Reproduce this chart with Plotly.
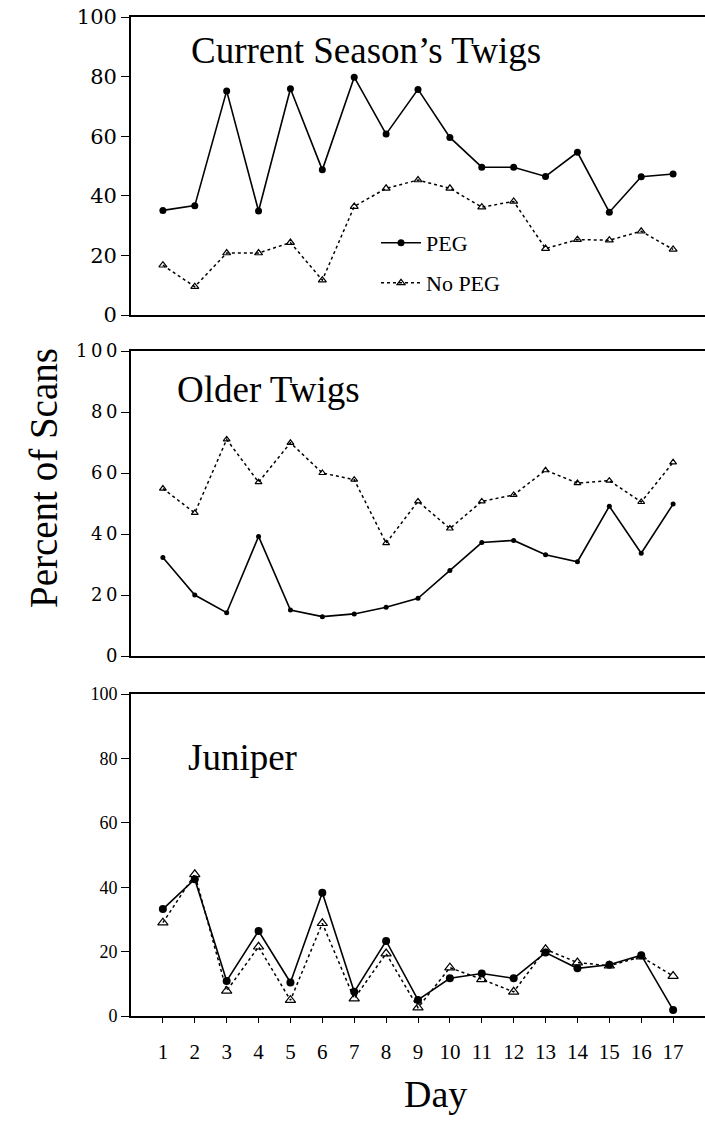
import plotly.graph_objects as go

# Day of trial (x-axis)
days = list(range(1, 18))
day_tick_labels = [str(d) for d in days]

# Percent of scans: current season's twigs
current_peg = [35.1, 36.7, 75.2, 34.9, 75.9, 48.7, 79.8, 60.7, 75.7, 59.6,
               49.6, 49.6, 46.5, 54.6, 34.5, 46.4, 47.3]
current_nopeg = [16.7, 9.5, 20.8, 20.8, 24.3, 11.7, 36.4, 42.5, 45.3, 42.5,
                 36.2, 38.1, 22.3, 25.3, 25.1, 28.1, 22.0]

# Percent of scans: older twigs
older_peg = [32.3, 20.0, 14.2, 39.2, 15.1, 12.9, 13.8, 16.0, 18.9, 28.0,
             37.2, 37.9, 33.2, 30.9, 49.1, 33.7, 49.8]
older_nopeg = [54.9, 46.9, 71.0, 57.0, 69.9, 60.0, 57.8, 37.0, 50.7, 41.8,
               50.7, 52.8, 60.9, 56.7, 57.5, 50.5, 63.5]

# Percent of scans: juniper
juniper_peg = [33.2, 42.5, 10.9, 26.4, 10.4, 38.3, 7.5, 23.3, 5.0, 11.7,
               13.2, 11.7, 19.7, 14.8, 15.9, 18.9, 1.9]
juniper_nopeg = [29.0, 44.0, 7.8, 21.5, 4.9, 28.8, 5.4, 19.4, 2.6, 15.0,
                 11.4, 7.5, 20.7, 16.6, 15.6, 18.4, 12.4]

y_ticks = [0, 20, 40, 60, 80, 100]
y_tick_labels = ["0", "20", "40", "60", "80", "100"]
# the middle panel's labels are set with slightly open letter spacing
y_tick_labels_spaced = ["\u2009".join(t) for t in y_tick_labels]
panel_titles = ["Current Season’s Twigs", "Older Twigs", "Juniper"]
series_names = ["PEG", "No PEG"]

W, H = 705, 1121
L_MARGIN = 131
SERIF = "Liberation Serif"
WIDE_SERIF = "DejaVu Serif"


def px_x(px):
    return (px - L_MARGIN) / (W - L_MARGIN)


def px_y(px):
    return 1 - px / H


# pixel extents (top, bottom) of each panel's plotting area
panel_px = [(17, 315), (351, 656), (694, 1016)]
# marker sizes per panel (circle, triangle)
marker_sizes = [(7, 7), (5, 6), (8, 9)]
title_pos = [(189, 50), (175, 390), (186, 757)]
ytick_styles = [
    (y_tick_labels, dict(family=WIDE_SERIF, size=21, color="black")),
    (y_tick_labels_spaced, dict(family=WIDE_SERIF, size=18, color="black")),
    (y_tick_labels, dict(family=SERIF, size=18, color="black")),
]

panels = [
    (current_peg, current_nopeg),
    (older_peg, older_nopeg),
    (juniper_peg, juniper_nopeg),
]

fig = go.Figure()

for i, (peg, nopeg) in enumerate(panels):
    n = i + 1
    xa = "x" if n == 1 else f"x{n}"
    ya = "y" if n == 1 else f"y{n}"
    csize, tsize = marker_sizes[i]
    fig.add_trace(go.Scatter(
        x=days, y=peg, xaxis=xa, yaxis=ya, mode="lines+markers",
        name=series_names[0],
        line=dict(color="black", width=1.6),
        marker=dict(symbol="circle", size=csize, color="black"),
        showlegend=(i == 0), legend="legend",
    ))
    fig.add_trace(go.Scatter(
        x=days, y=nopeg, xaxis=xa, yaxis=ya, mode="lines+markers",
        name=series_names[1],
        line=dict(color="black", width=1.5, dash="dot"),
        marker=dict(symbol="triangle-up-open", size=tsize, color="black",
                    line=dict(width=1.2, color="black")),
        showlegend=(i == 0), legend="legend2",
    ))

    top, bot = panel_px[i]
    is_bottom = (n == 3)
    fig.layout[f"xaxis{'' if n == 1 else n}"] = dict(
        domain=[0, 1], range=[0, 18], anchor=ya,
        showline=True, linecolor="black", linewidth=1.8, mirror=True,
        showgrid=False, zeroline=False,
        tickmode="array",
        tickvals=days if is_bottom else [],
        ticktext=day_tick_labels if is_bottom else [],
        ticks="outside" if is_bottom else "", ticklen=5, tickwidth=1.2,
        tickcolor="black", ticklabelstandoff=11,
        tickfont=dict(family=SERIF, size=21, color="black"),
        fixedrange=True,
    )
    labels, tfont = ytick_styles[i]
    fig.layout[f"yaxis{'' if n == 1 else n}"] = dict(
        domain=[px_y(bot), px_y(top)], range=[0, 100], anchor=xa,
        showline=True, linecolor="black", linewidth=1.8, mirror=False,
        showgrid=False, zeroline=False,
        tickmode="array", tickvals=y_ticks, ticktext=labels,
        ticks="outside", ticklen=8, tickwidth=1.2, tickcolor="black",
        tickfont=tfont,
        fixedrange=True,
    )

    tx, ty = title_pos[i]
    fig.add_annotation(
        text=panel_titles[i], xref="paper", yref="paper",
        x=px_x(tx), y=px_y(ty), xanchor="left", yanchor="middle",
        showarrow=False, font=dict(family=SERIF, size=37, color="black"),
    )

# axis titles
fig.add_annotation(
    text="Percent of Scans", xref="paper", yref="paper",
    x=px_x(43), y=px_y(478), xanchor="center", yanchor="middle",
    textangle=-90, showarrow=False,
    font=dict(family=SERIF, size=39, color="black"),
)
fig.add_annotation(
    text="Day", xref="paper", yref="paper",
    x=px_x(435), y=px_y(1094), xanchor="center", yanchor="middle",
    showarrow=False, font=dict(family=SERIF, size=38, color="black"),
)

legend_style = dict(
    font=dict(family=SERIF, size=22, color="black"),
    bgcolor="rgba(0,0,0,0)", borderwidth=0, itemwidth=40,
    xref="paper", yref="paper", xanchor="left", yanchor="middle",
    itemclick=False, itemdoubleclick=False,
)

fig.update_layout(
    width=W, height=H,
    margin=dict(l=L_MARGIN, r=0, t=0, b=0, autoexpand=False),
    paper_bgcolor="white", plot_bgcolor="white",
    legend=dict(x=px_x(376), y=px_y(243), **legend_style),
    legend2=dict(x=px_x(376), y=px_y(283), **legend_style),
)

fig.write_html("out.html")
